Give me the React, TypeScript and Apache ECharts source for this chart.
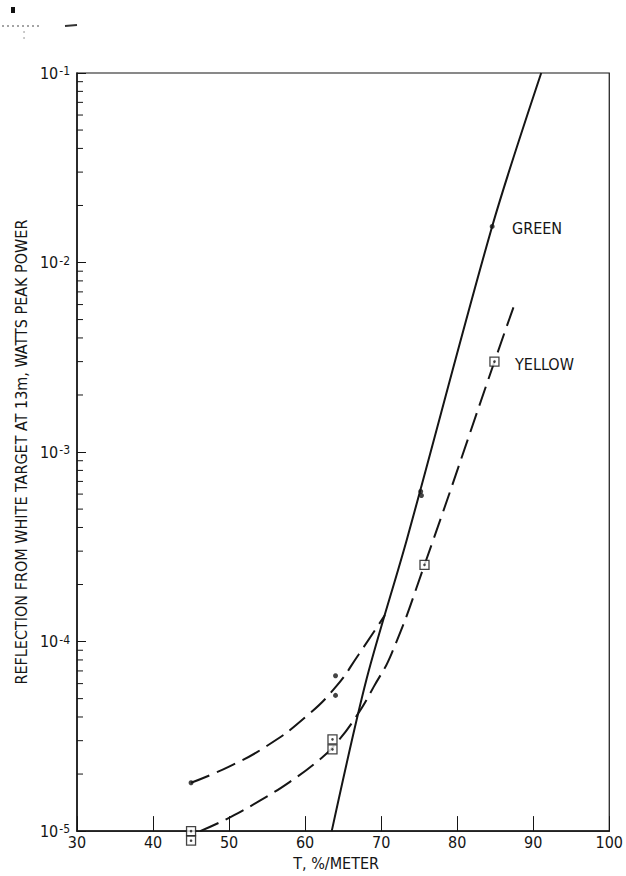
import React, { useEffect, useRef } from "react";
import * as echarts from "echarts";

// ---- axis ticks ----
const xTicks = [30, 40, 50, 60, 70, 80, 90, 100];
const yDecades = [1e-5, 1e-4, 1e-3, 1e-2, 1e-1];
const minorMultipliers = [2, 3, 4, 5, 6, 7, 8, 9];

// ---- measured points ----
const greenPointsT = [45, 64, 64, 75.2, 75.3, 84.6];
const greenPointsR = [1.8e-5, 6.6e-5, 5.2e-5, 6.2e-4, 5.9e-4, 1.55e-2];
const yellowPointsT = [45, 45, 63.6, 63.6, 75.7, 84.9];
const yellowPointsR = [1.0e-5, 8.9e-6, 3.05e-5, 2.7e-5, 2.54e-4, 3.0e-3];

// ---- drawn curves ----
const greenFitT = [63.5, 68.1, 73.4, 84.6, 91.05];
const greenFitR = [1e-5, 6.38e-5, 3.48e-4, 1.55e-2, 1e-1];
const greenLowT = [45, 50, 55, 60, 64, 67, 70.5];
const greenLowR = [1.8e-5, 2.19e-5, 2.82e-5, 3.98e-5, 5.75e-5, 8.5e-5, 1.38e-4];
const yellowCurveT = [46.2, 50, 54, 58, 62, 64, 66.8, 69, 71.4, 75.7, 84.9, 87.4];
const yellowCurveR = [1e-5, 1.175e-5, 1.445e-5, 1.82e-5, 2.4e-5, 2.88e-5, 4.07e-5, 5.75e-5, 8.7e-5, 2.54e-4, 3.0e-3, 5.8e-3];

const seriesLabels = ["GREEN", "YELLOW"];
const xName = "T, %/METER";
const yName = "REFLECTION FROM WHITE TARGET AT 13m, WATTS PEAK POWER";

const FONT = "'DejaVu Sans Condensed', 'Liberation Sans Narrow', 'DejaVu Sans', sans-serif";
const INK = "#151515";

const zip = (a: number[], b: number[]) => a.map((v, i) => [v, b[i]]);

export default function App() {
  const ref = useRef<HTMLDivElement>(null);
  useEffect(() => {
    if (!ref.current) return;
    const chart = echarts.init(ref.current, undefined, { renderer: "svg" });
    const minorTicks: number[][] = [];
    yDecades.slice(0, -1).forEach((d) => minorMultipliers.forEach((m) => minorTicks.push([30, d * m])));

    const option: any = {
      animation: false,
      backgroundColor: "#ffffff",
      grid: {
        left: 77,
        top: 73,
        width: 534,
        height: 760,
        show: true,
        borderColor: INK,
        borderWidth: 1.2,
        backgroundColor: "transparent",
      },
      xAxis: {
        type: "value",
        min: 30,
        max: 100,
        interval: 10,
        axisLine: { show: true, onZero: false, lineStyle: { color: INK, width: 1.5 } },
        axisTick: { show: true, inside: true, length: 15, lineStyle: { color: INK, width: 1 } },
        axisLabel: {
          margin: 3,
          fontSize: 16,
          color: INK,
          fontFamily: FONT,
          customValues: xTicks,
        },
        splitLine: { show: false },
        name: xName,
        nameLocation: "middle",
        nameGap: 19,
        nameTextStyle: { fontSize: 16, color: INK, fontFamily: FONT, padding: [0, 14, 0, 0] },
      },
      yAxis: {
        type: "log",
        logBase: 10,
        min: 1e-5,
        max: 1e-1,
        axisLine: { show: true, lineStyle: { color: INK, width: 1.5 } },
        axisTick: { show: true, inside: true, length: 9, lineStyle: { color: INK, width: 1 } },
        splitLine: { show: false },
        axisLabel: {
          margin: 7,
          color: INK,
          fontFamily: FONT,
          formatter: (v: number) => `{b|10}{s|${Math.round(Math.log10(v))}}`,
          rich: {
            b: { fontSize: 16, lineHeight: 16, verticalAlign: "bottom", fontFamily: FONT, color: INK },
            s: { fontSize: 12, lineHeight: 12, padding: [0, 0, 10, 1], verticalAlign: "top", fontFamily: FONT, color: INK },
          },
        },
        name: yName,
        nameLocation: "middle",
        nameGap: 48,
        nameTextStyle: { fontSize: 16, color: INK, fontFamily: FONT },
      },
      graphic: [
        { type: "text", left: 512, top: 220, style: { text: seriesLabels[0], font: `16px ${FONT}`, fill: INK } },
        { type: "text", left: 515, top: 356, style: { text: seriesLabels[1], font: `16px ${FONT}`, fill: INK } },
        { type: "rect", shape: { x: 11, y: 7, width: 4, height: 6 }, style: { fill: "#111" } },
        { type: "line", shape: { x1: 2, y1: 26, x2: 42, y2: 26 }, style: { stroke: "#888", lineWidth: 1.5, lineDash: [2, 3] } },
        { type: "line", shape: { x1: 65, y1: 26, x2: 77, y2: 25 }, style: { stroke: "#333", lineWidth: 2 } },
        { type: "circle", shape: { cx: 24, cy: 32, r: 0.8 }, style: { fill: "#aaa" } },
        { type: "circle", shape: { cx: 24, cy: 38, r: 0.8 }, style: { fill: "#aaa" } },
      ],
      series: [
        {
          type: "custom",
          silent: true,
          data: minorTicks,
          renderItem: (params: any, api: any) => {
            const p = api.coord([api.value(0), api.value(1)]);
            return {
              type: "line",
              shape: { x1: p[0], y1: p[1], x2: p[0] + 6, y2: p[1] },
              style: { stroke: INK, lineWidth: 1 },
            };
          },
        },
        {
          type: "line",
          data: zip(greenFitT, greenFitR),
          smooth: 0.3,
          showSymbol: false,
          lineStyle: { color: INK, width: 2 },
        },
        {
          type: "line",
          data: zip(greenLowT, greenLowR),
          smooth: 0.5,
          showSymbol: false,
          lineStyle: { color: INK, width: 2, type: [20, 8] },
        },
        {
          type: "line",
          data: zip(yellowCurveT, yellowCurveR),
          smooth: 0.5,
          showSymbol: false,
          lineStyle: { color: INK, width: 2, type: [20, 8] },
        },
        {
          type: "scatter",
          data: zip(greenPointsT, greenPointsR),
          symbol: "circle",
          symbolSize: 5,
          clip: false,
          itemStyle: { color: INK },
        },
        {
          type: "scatter",
          data: zip(yellowPointsT, yellowPointsR),
          symbol: "rect",
          symbolSize: 9,
          clip: false,
          itemStyle: { color: "#ffffff", borderColor: INK, borderWidth: 1.3 },
          z: 3,
        },
        {
          type: "scatter",
          data: zip(yellowPointsT, yellowPointsR),
          symbol: "circle",
          symbolSize: 2.6,
          clip: false,
          itemStyle: { color: INK },
          z: 4,
        },
      ],
    };
    chart.setOption(option);
    return () => chart.dispose();
  }, []);
  return (
    <div
      ref={ref}
      style={{ position: "absolute", left: 0, top: 0, width: 626, height: 876, background: "#fff" }}
    />
  );
}
